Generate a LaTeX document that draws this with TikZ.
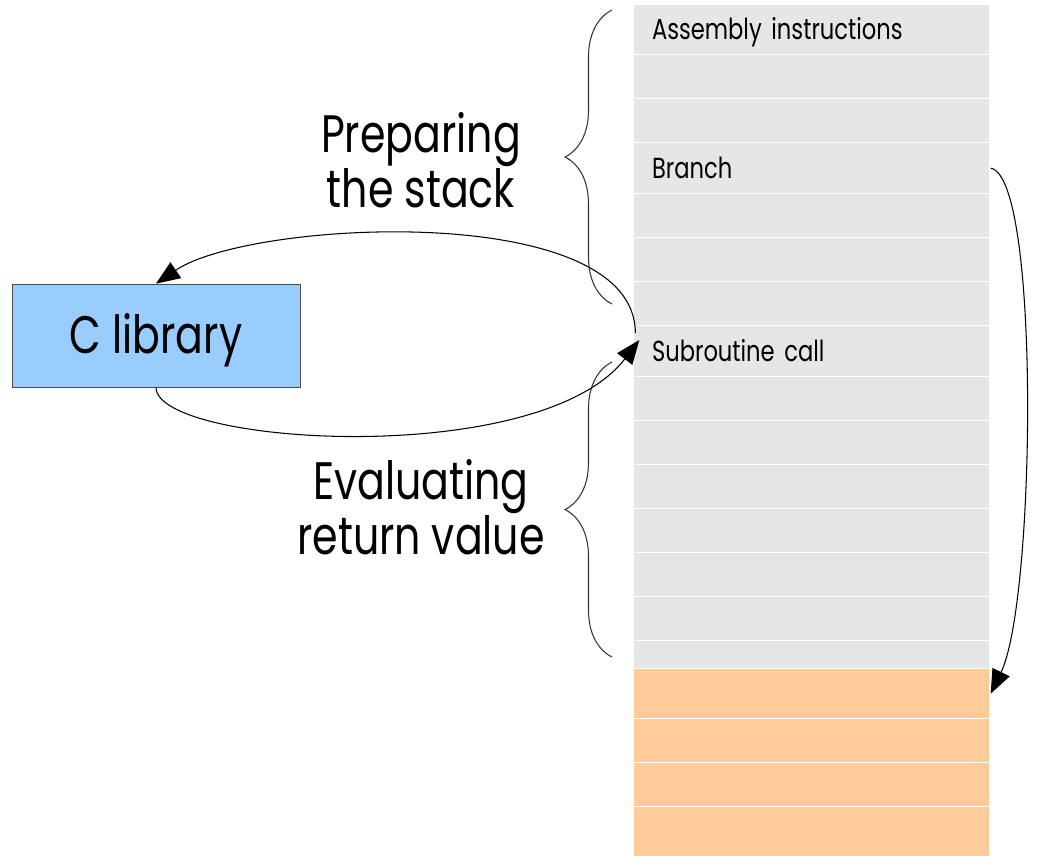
\documentclass[tikz,border=0pt]{standalone}
\usepackage{fontspec}
\setmainfont{Poppins}[FakeStretch=0.78]
\usepackage{tikz}
\usetikzlibrary{calc, arrows.meta, decorations.pathreplacing}
\definecolor{rowgray}{HTML}{E6E6E6}
\definecolor{roworange}{HTML}{FFCC99}
\definecolor{libblue}{HTML}{99CCFF}
\tikzstyle{cell} = [draw=white, line width=0.8pt, fill=rowgray, minimum width=7.14cm, text width=6.38cm, inner xsep=0.38cm, inner ysep=0pt, text height=11.5pt, text depth=0pt, align=left, anchor=north, font=\fontsize{16.5}{19}\selectfont]
\tikzstyle{hotcell} = [cell, fill=roworange]
\tikzstyle{library} = [draw=black!70, fill=libblue, minimum width=5.76cm, minimum height=2.06cm, text height=21pt, text depth=0pt, font=\fontsize{30}{31}\selectfont]
\tikzstyle{caption} = [align=center, font=\fontsize{30}{31}\selectfont]
\tikzstyle{jump} = [black, line width=0.6pt, -{Triangle[length=0.48cm, width=0.38cm]}]
\tikzstyle{span} = [black!80, line width=0.6pt, decorate, decoration={brace, amplitude=0.94cm}]

\begin{document}
\begin{tikzpicture}[x=0.02cm, y=-0.02cm]
\useasboundingbox (0,0) rectangle (1037,856);

\node[cell, minimum height=1.0cm] (r1) at (811.5,4) {Assembly instructions};
\node[cell, minimum height=0.88cm] (r2) at (811.5,54) {};
\node[cell, minimum height=0.88cm] (r3) at (811.5,98) {};
\node[cell, minimum height=1.02cm] (r4) at (811.5,142) {Branch};
\node[cell, minimum height=0.88cm] (r5) at (811.5,193) {};
\node[cell, minimum height=0.88cm] (r6) at (811.5,237) {};
\node[cell, minimum height=0.88cm] (r7) at (811.5,281) {};
\node[cell, minimum height=1.02cm] (r8) at (811.5,325) {Subroutine call};
\node[cell, minimum height=0.88cm] (r9) at (811.5,376) {};
\node[cell, minimum height=0.88cm] (r10) at (811.5,420) {};
\node[cell, minimum height=0.88cm] (r11) at (811.5,464) {};
\node[cell, minimum height=0.88cm] (r12) at (811.5,508) {};
\node[cell, minimum height=0.88cm] (r13) at (811.5,552) {};
\node[cell, minimum height=0.88cm] (r14) at (811.5,596) {};
\node[cell, minimum height=0.56cm] (r15) at (811.5,640) {};
\node[hotcell, minimum height=1.0cm] (o1) at (811.5,668) {};
\node[hotcell, minimum height=0.88cm] (o2) at (811.5,718) {};
\node[hotcell, minimum height=0.88cm] (o3) at (811.5,762) {};
\node[hotcell, minimum height=1.0cm] (o4) at (811.5,806) {};

\node[library] (lib) at (156,335.5) {C library};

\draw[span] (612,304) -- (612,10);
\draw[span] (612,657) -- (612,362);
\node[caption] (prep) at (421,160) {Preparing\\the stack};
\node[caption] (eval) at (421,507) {Evaluating\\return value};

\draw[jump] ($(r8.north west)+(3,8)$) .. controls +(0,-133) and +(94,-64) .. (lib.north);
\draw[jump] (lib.south) .. controls +(0,58) and +(-100,130) .. ($(r8.north west)+(7,15)$);
\draw[jump] (r4.east) .. controls +(50,8) and +(45,-93) .. (o1.east);

\end{tikzpicture}
\end{document}
